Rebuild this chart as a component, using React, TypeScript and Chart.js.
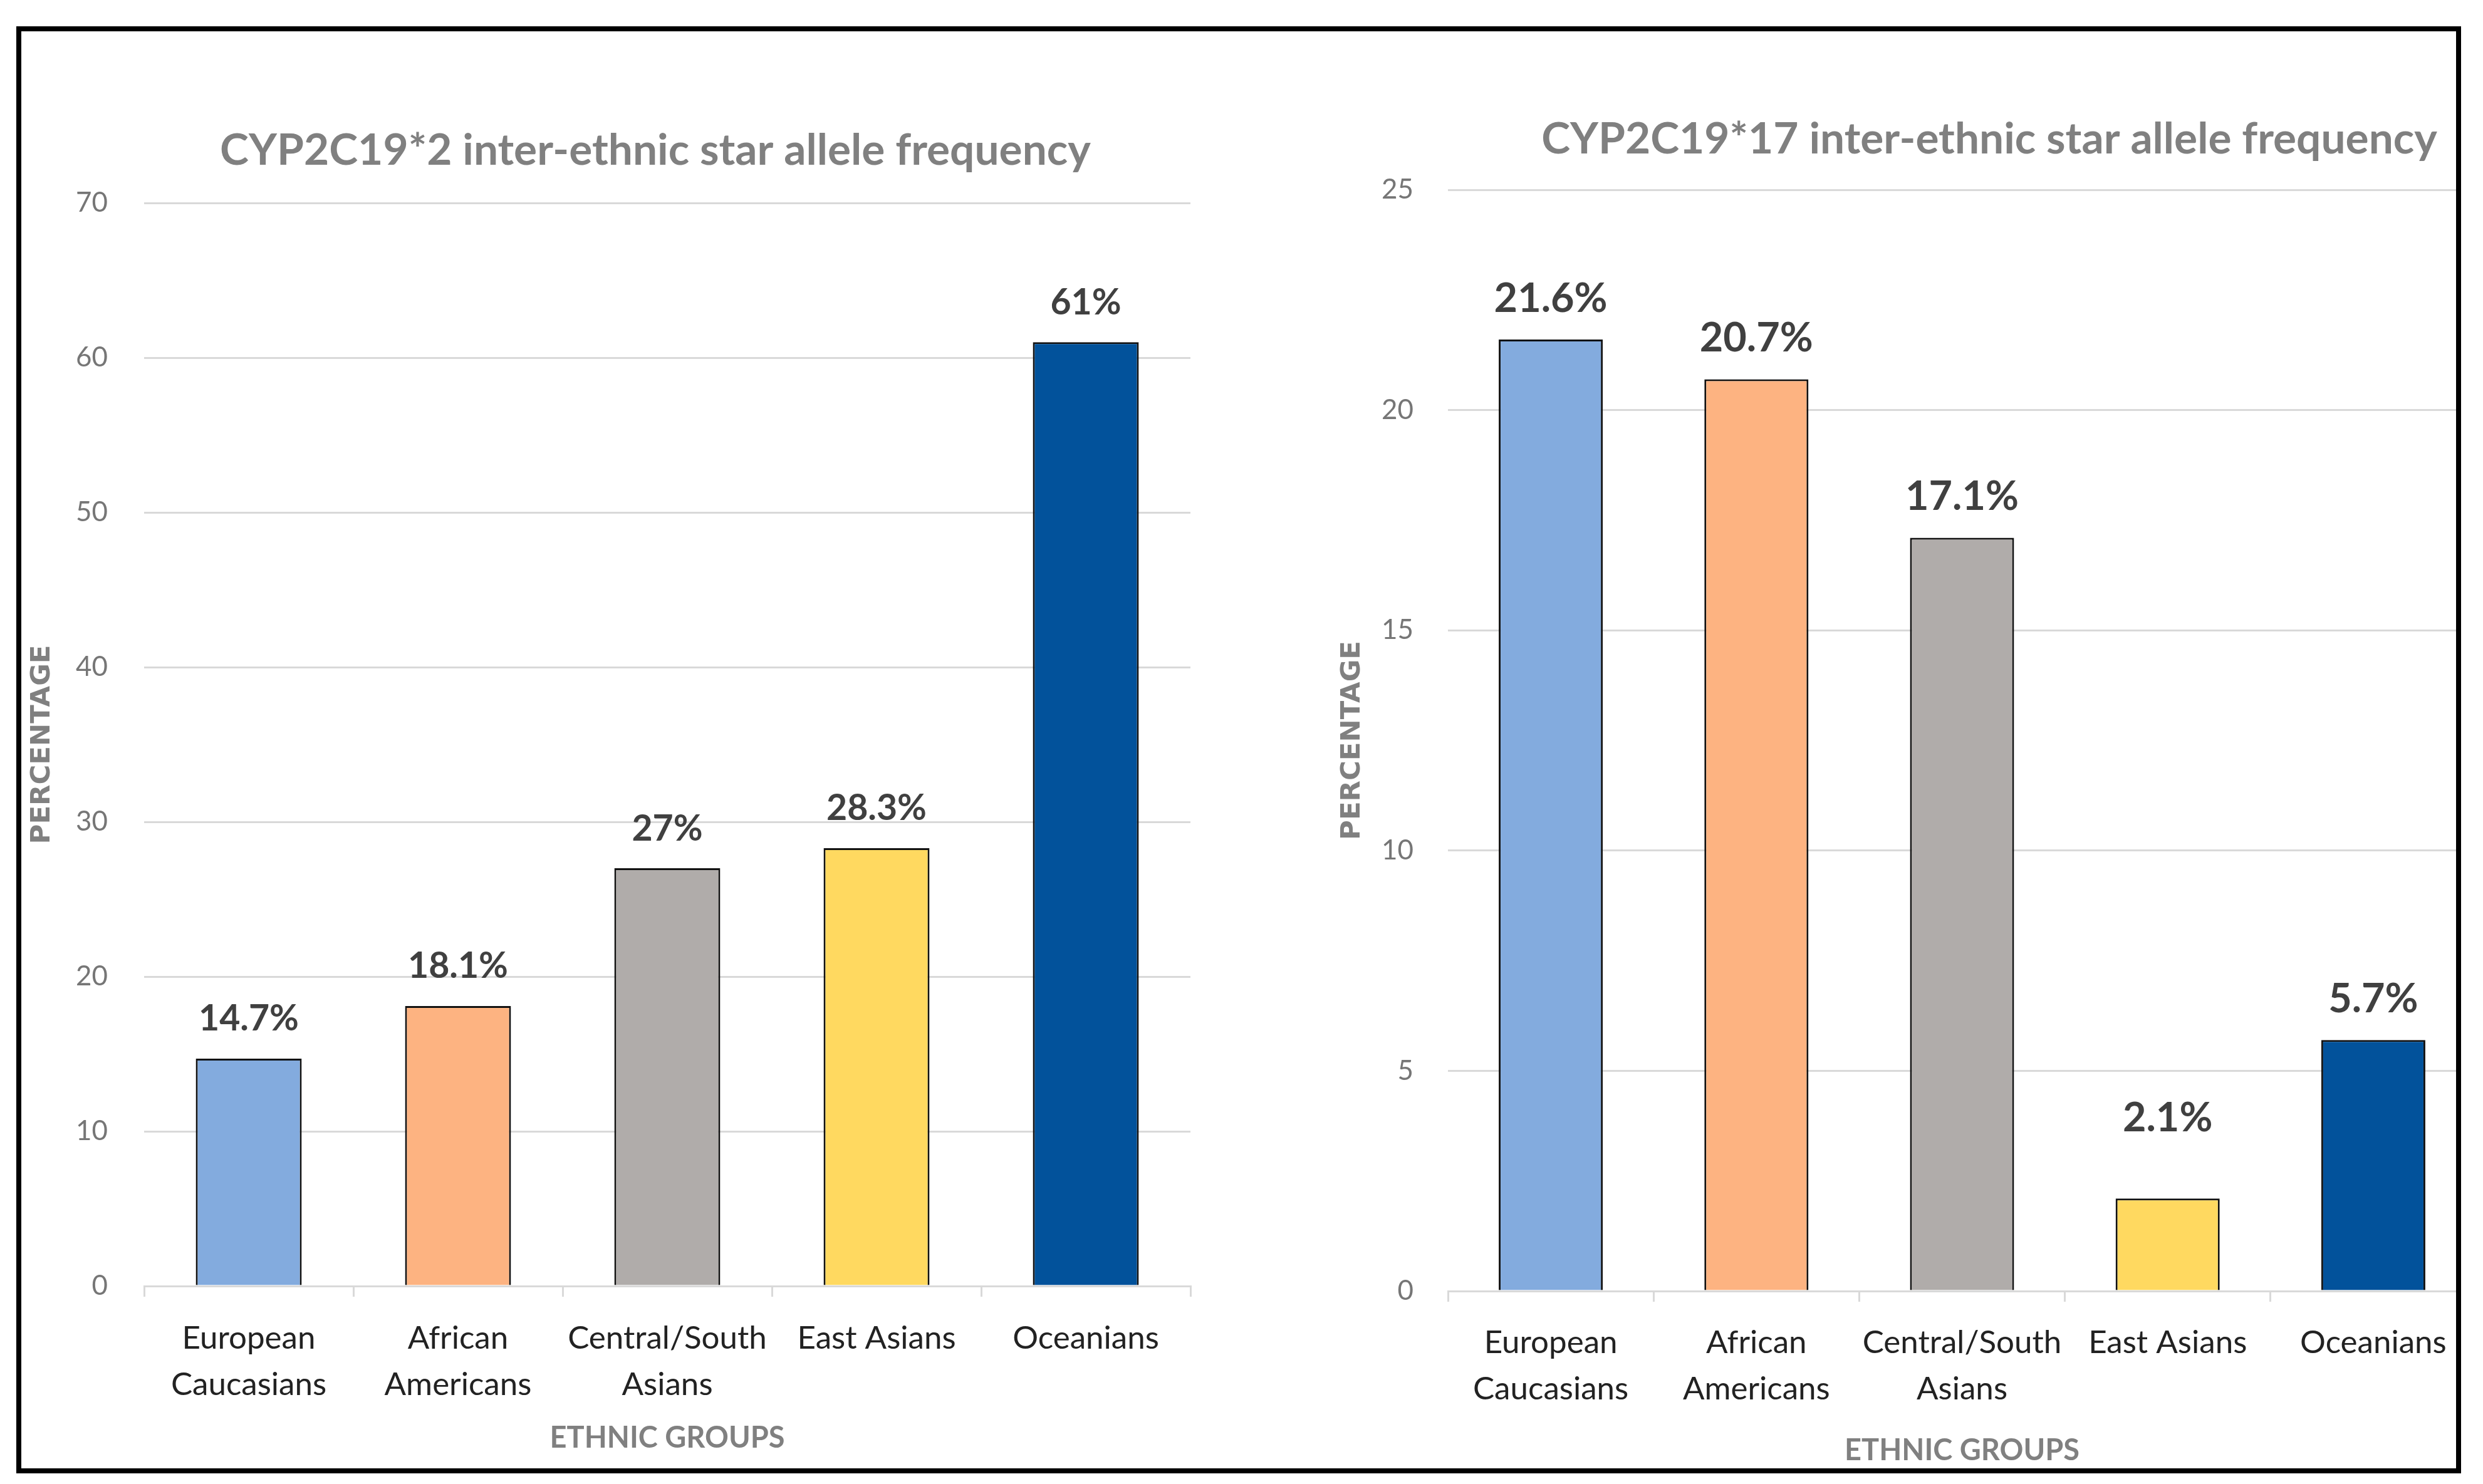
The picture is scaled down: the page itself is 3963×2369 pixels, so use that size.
import React, { useEffect, useRef } from 'react';
import { Chart, registerables } from 'chart.js';

Chart.register(...registerables);

// ---------------- data ----------------
const CATEGORIES: (string | string[])[] = [
  ['European', 'Caucasians'],
  ['African', 'Americans'],
  ['Central/South', 'Asians'],
  'East Asians',
  'Oceanians',
];
const STAR2_VALUES = [14.7, 18.1, 27, 28.3, 61];
const STAR17_VALUES = [21.6, 20.7, 17.1, 2.1, 5.7];
const STAR2_Y_TICKS = [0, 10, 20, 30, 40, 50, 60, 70];
const STAR17_Y_TICKS = [0, 5, 10, 15, 20, 25];
const BAR_COLORS = ['#83ABDE', '#FDB381', '#B0ACAA', '#FFD960', '#02529B'];
const TITLE_STAR2 = 'CYP2C19*2 inter-ethnic star allele frequency';
const TITLE_STAR17 = 'CYP2C19*17 inter-ethnic star allele frequency';
const X_TITLE = 'ETHNIC GROUPS';
const Y_TITLE = 'PERCENTAGE';

// ---------------- styling ----------------
const FONT = 'Lato, "Open Sans", sans-serif';
const Y_TITLE_FONT = '"DejaVu Sans", Verdana, sans-serif';
const GRID = '#D9D9D9';

function fitSize(text: string, weight: string, family: string, target: number): number {
  const ctx = document.createElement('canvas').getContext('2d')!;
  ctx.font = `${weight} 100px ${family}`;
  const w = ctx.measureText(text).width;
  return (100 * target) / w;
}

const valueLabels = {
  id: 'valueLabels',
  afterDatasetsDraw(chart: any, _args: any, opts: any) {
    const { ctx } = chart;
    const meta = chart.getDatasetMeta(0);
    const data = chart.data.datasets[0].data;
    ctx.save();
    ctx.font = `bold ${opts.size}px ${FONT}`;
    ctx.fillStyle = opts.color;
    ctx.textAlign = 'center';
    ctx.textBaseline = 'middle';
    meta.data.forEach((bar: any, i: number) => {
      const lift = (opts.lift && opts.lift[i]) || 0;
      ctx.fillText(`${data[i]}%`, bar.x, bar.y - opts.gap - lift);
    });
    ctx.restore();
  },
};

type Spec = {
  title: string;
  values: number[];
  yTicks: number[];
  left: number;
  width: number;
  height: number;
  yAxisWidth: number;
  rightGap: number;
  xAxisHeight: number;
  titleMid: number;
  plotTop: number;
  titleWidth: number;
  labelSample: string;
  labelWidth: number;
  labelGap: number;
  labelLift: number[];
  yTickPad: number;
  yTitleCenter: number;
  xTitleOffset: number;
  xTickPadding: number;
};

function BarPanel({ spec }: { spec: Spec }) {
  const ref = useRef<HTMLCanvasElement>(null);
  useEffect(() => {
    if (!ref.current) return;
    const titleSize = fitSize(spec.title, 'bold', FONT, spec.titleWidth);
    const labelSize = fitSize(spec.labelSample, 'bold', FONT, spec.labelWidth);
    const catSize = fitSize('European', 'normal', FONT, 213);
    const tickSize = fitSize('70', 'normal', FONT, 51);
    const xTitleSize = fitSize(X_TITLE, 'bold', FONT, 375);
    const yTitleSize = fitSize(Y_TITLE, 'bold', Y_TITLE_FONT, 318);
    const yMin = spec.yTicks[0];
    const yMax = spec.yTicks[spec.yTicks.length - 1];
    const yStep = spec.yTicks[1] - spec.yTicks[0];

    const chart = new Chart(ref.current, {
      type: 'bar',
      data: {
        labels: CATEGORIES as any,
        datasets: [
          {
            data: spec.values,
            backgroundColor: BAR_COLORS,
            borderColor: '#111111',
            borderWidth: 3,
            categoryPercentage: 1,
            barPercentage: 0.506,
          },
        ],
      },
      plugins: [valueLabels as any],
      options: {
        animation: false,
        responsive: false,
        devicePixelRatio: 1,
        layout: { padding: 0 },
        plugins: {
          legend: { display: false },
          tooltip: { enabled: false },
          title: {
            display: true,
            text: spec.title,
            color: '#808080',
            font: { family: FONT, size: titleSize, weight: 'bold', lineHeight: 1 },
            padding: {
              top: spec.titleMid - titleSize / 2,
              bottom: spec.plotTop - spec.titleMid - titleSize / 2,
            },
          },
          valueLabels: {
            size: labelSize,
            color: '#404040',
            gap: spec.labelGap,
            lift: spec.labelLift,
          },
        } as any,
        scales: {
          x: {
            type: 'category',
            offset: true,
            grid: {
              display: true,
              offset: true,
              drawOnChartArea: false,
              drawTicks: true,
              tickLength: 17,
              color: GRID,
              lineWidth: 3,
            },
            border: { display: true, color: GRID, width: 3 },
            ticks: {
              autoSkip: false,
              maxRotation: 0,
              minRotation: 0,
              padding: spec.xTickPadding,
              color: '#222222',
              font: { family: FONT, size: catSize, lineHeight: 74 / catSize },
            },
            title: {
              display: true,
              text: X_TITLE,
              color: '#808080',
              font: { family: FONT, size: xTitleSize, weight: 'bold', lineHeight: 1 },
              padding: { top: 0, bottom: spec.xTitleOffset - xTitleSize / 2 },
            },
            afterFit: (s: any) => {
              s.height = spec.xAxisHeight;
            },
          },
          y: {
            type: 'linear',
            position: 'left',
            min: yMin,
            max: yMax,
            ticks: {
              stepSize: yStep,
              padding: spec.yTickPad,
              color: '#767676',
              font: { family: FONT, size: tickSize },
            },
            grid: { color: GRID, lineWidth: 3, drawTicks: false },
            border: { display: false },
            title: {
              display: true,
              text: Y_TITLE,
              color: '#808080',
              font: { family: Y_TITLE_FONT, size: yTitleSize, weight: 'bold', lineHeight: 1 },
              padding: { top: spec.yTitleCenter - yTitleSize / 2, bottom: 0 },
            },
            afterFit: (s: any) => {
              s.width = spec.yAxisWidth;
            },
          },
          spacer: {
            type: 'linear',
            position: 'right',
            display: true,
            grid: { display: false },
            border: { display: false },
            ticks: { display: false },
            afterFit: (s: any) => {
              s.width = spec.rightGap;
            },
          },
        } as any,
      },
    });
    return () => chart.destroy();
  }, [spec]);

  return (
    <canvas
      ref={ref}
      width={spec.width}
      height={spec.height}
      style={{
        position: 'absolute',
        left: spec.left,
        top: 0,
        width: spec.width,
        height: spec.height,
      }}
    />
  );
}

const LEFT_SPEC: Spec = {
  title: TITLE_STAR2,
  values: STAR2_VALUES,
  yTicks: STAR2_Y_TICKS,
  left: 0,
  width: 2024,
  height: 2294,
  yAxisWidth: 196,
  rightGap: 158,
  xAxisHeight: 291,
  titleMid: 191,
  plotTop: 274,
  titleWidth: 1390,
  labelSample: '14.7%',
  labelWidth: 160,
  labelGap: 63,
  labelLift: [0, 0, 0, 0, 0],
  yTickPad: 58,
  yTitleCenter: 34,
  xTitleOffset: 48,
  xTickPadding: 30,
};

const RIGHT_SPEC: Spec = {
  title: TITLE_STAR17,
  values: STAR17_VALUES,
  yTicks: STAR17_Y_TICKS,
  left: 2066,
  width: 2150,
  height: 2294,
  yAxisWidth: 211,
  rightGap: 298,
  xAxisHeight: 283,
  titleMid: 173,
  plotTop: 253,
  titleWidth: 1430,
  labelSample: '21.6%',
  labelWidth: 181,
  labelGap: 65,
  labelLift: [0, 0, 0, 63, 0],
  yTickPad: 55,
  yTitleCenter: 59,
  xTitleOffset: 28,
  xTickPadding: 29,
};

export default function App() {
  return (
    <div
      style={{
        position: 'absolute',
        left: 26,
        top: 42,
        width: 3902,
        height: 2310,
        boxSizing: 'border-box',
        border: '8px solid #000',
        overflow: 'hidden',
        background: '#fff',
      }}
    >
      <BarPanel spec={LEFT_SPEC} />
      <BarPanel spec={RIGHT_SPEC} />
    </div>
  );
}
